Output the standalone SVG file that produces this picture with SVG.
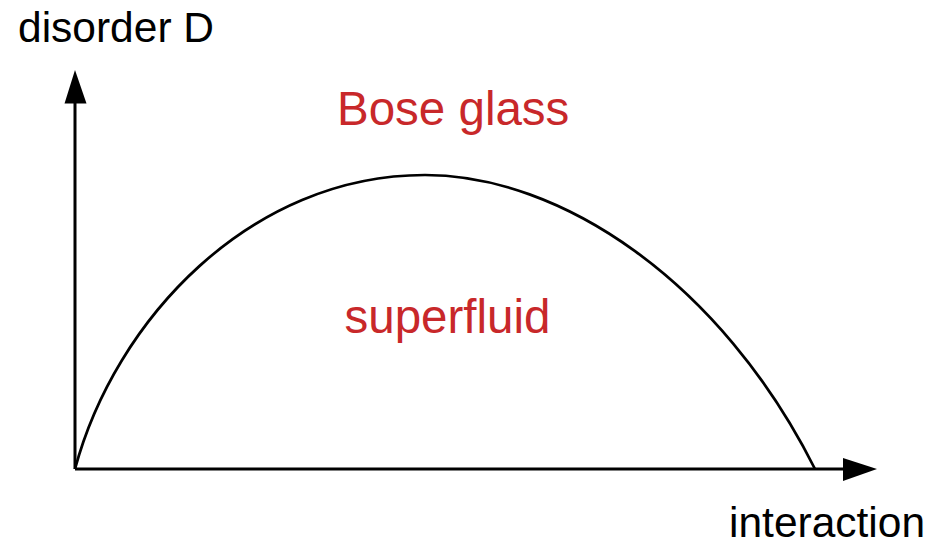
<svg xmlns="http://www.w3.org/2000/svg" width="939" height="545" viewBox="0 0 939 545">
<style>
.lbl{font-family:"Liberation Sans",Arial,sans-serif;fill:#000}
.phase{font-family:"Liberation Sans",Arial,sans-serif;fill:#c8282a}
.axis{stroke:#000;stroke-width:3;fill:none}
.curve{stroke:#000;stroke-width:2.7;fill:none}
.head{fill:#000}
</style>
<rect width="939" height="545" fill="#fff"/>
<g id="connectors">
<line class="axis" x1="75" y1="469" x2="75" y2="100"/>
<polygon class="head" points="75,70 64.5,103.5 86.5,103.5"/>
<line class="axis" x1="75" y1="469" x2="846" y2="469"/>
<polygon class="head" points="877,469 843,458 843,481"/>
<path class="curve" d="M75,469 C115,320 250,175 425,175 C560,175 720,280 815,469"/>
</g>
<g id="ylabel"><text class="lbl" x="18" y="42" font-size="42.5">disorder D</text></g>
<g id="xlabel"><text class="lbl" x="729" y="537" font-size="42.5">interaction</text></g>
<g id="boseglass"><text class="phase" x="337" y="125" font-size="47.5">Bose glass</text></g>
<g id="superfluid"><text class="phase" x="344.5" y="333" font-size="47.5">superfluid</text></g>
</svg>
